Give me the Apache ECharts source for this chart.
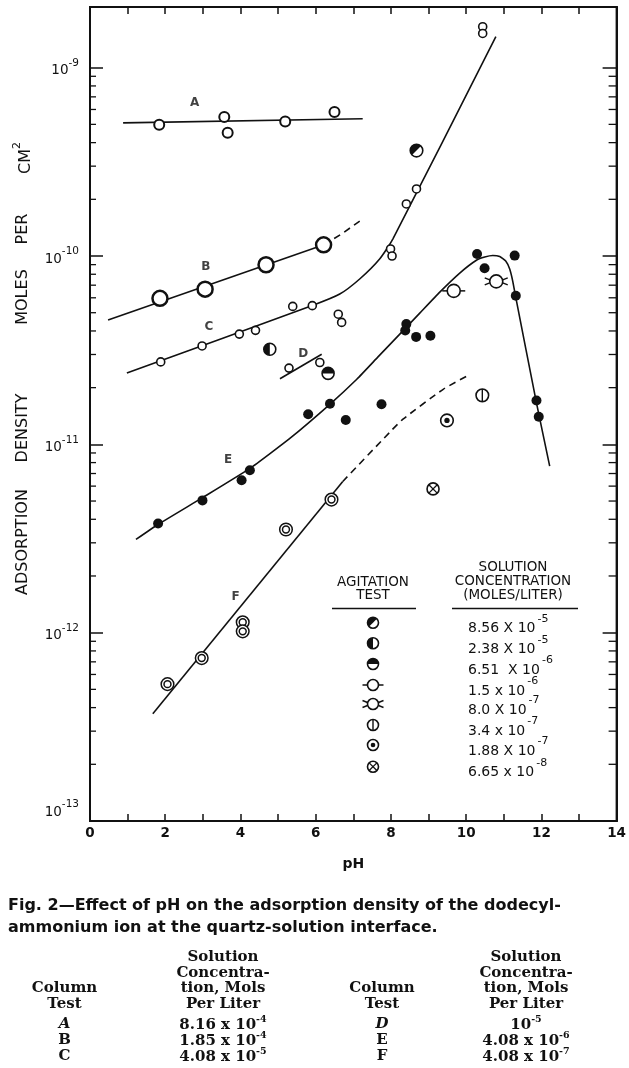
<!DOCTYPE html>
<html><head><meta charset="utf-8">
<script src="https://cdn.jsdelivr.net/npm/echarts@6/dist/echarts.min.js"></script>
<style>html,body{margin:0;padding:0;background:#fff}#c{width:629px;height:1068px}</style>
</head><body><div id="c"></div>
<script>
// ---------------- data (pH, moles per cm^2) ----------------
const xTickValues = [0, 2, 4, 6, 8, 10, 12, 14];
const seriesA = [[1.84,4.98e-10],[3.57,5.47e-10],[3.66,4.51e-10],[5.19,5.18e-10],[6.50,5.81e-10]];
const lineA = [[0.88,5.09e-10],[7.25,5.36e-10]];
const seriesB = [[1.86,5.96e-11],[3.06,6.67e-11],[4.68,8.99e-11],[6.21,1.146e-10]];
const lineB = [[0.48,4.58e-11],[6.22,1.146e-10]];
const lineBDashed = [[6.22,1.146e-10],[6.69,1.31e-10],[7.25,1.574e-10]];
const seriesC = [[1.88,2.74e-11],[2.98,3.33e-11],[3.97,3.85e-11],[4.40,4.03e-11],[5.39,5.40e-11],[5.91,5.45e-11],[6.60,4.91e-11],[6.69,4.44e-11],[7.99,1.09e-10],[8.03,1.00e-10],[8.41,1.89e-10],[8.68,2.27e-10],[10.44,1.65e-9],[10.44,1.52e-9]];
const lineC = [[0.98,2.39e-11],[5.93,5.48e-11],[6.64,6.28e-11],[7.17,7.55e-11],[7.70,9.64e-11],[8.05,1.23e-10],[10.79,1.46e-9]];
const seriesD = [[5.29,2.54e-11],[6.11,2.72e-11]];
const lineD = [[5.05,2.23e-11],[6.16,3.01e-11]];
const seriesE = [[1.81,3.80e-12],[2.99,5.04e-12],[4.03,6.44e-12],[4.25,7.28e-12],[5.80,1.445e-11],[6.38,1.644e-11],[6.80,1.346e-11],[7.75,1.633e-11],[8.41,4.35e-11],[8.38,4.02e-11],[8.67,3.72e-11],[9.05,3.77e-11],[10.29,1.026e-10],[11.29,1.005e-10],[10.49,8.61e-11],[11.32,6.15e-11],[11.87,1.71e-11],[11.93,1.40e-11]];
const lineE = [[1.222,3.126e-12],[1.807,3.754e-12],[3.002,5.226e-12],[4.251,7.453e-12],[5.313,1.076e-11],[6.376,1.632e-11],[7.093,2.217e-11],[7.651,2.903e-11],[8.236,3.847e-11],[8.767,4.975e-11],[9.299,6.433e-11],[9.830,8.121e-11],[10.282,9.522e-11],[10.494,9.879e-11],[10.707,1.0062e-10],[10.893,9.938e-11],[11.052,9.406e-11],[11.158,8.53e-11],[11.238,7.362e-11],[11.318,6.05e-11],[11.868,1.666e-11],[12.221,7.665e-12]];
const seriesF = [[2.06,5.33e-13],[2.97,7.33e-13],[4.06,1.135e-12],[4.06,1.016e-12],[5.21,3.53e-12],[6.42,5.09e-12]];
const lineF = [[1.67,3.71e-13],[6.72,6.35e-12]];
const lineFDashed = [[6.72,6.35e-12],[7.97,1.16e-11],[8.32,1.36e-11],[9.39,1.96e-11],[10.08,2.34e-11]];
// agitation tests
const agit856e5 = [[8.68,3.63e-10]];
const agit238e5 = [[4.78,3.2e-11]];
const agit651e6 = [[6.33,2.38e-11]];
const agit15e6 = [[9.67,6.53e-11]];
const agit80e7 = [[10.80,7.33e-11]];
const agit34e7 = [[10.43,1.82e-11]];
const agit188e7 = [[9.49,1.34e-11]];
const agit665e8 = [[9.12,5.8e-12]];
// curve letters
const curveLabelNames = ['A','B','C','D','E','F'];
const curveLabelAt = [[2.78,6.52e-10],[3.08,8.73e-11],[3.16,4.18e-11],[5.67,3.01e-11],[3.67,8.32e-12],[3.87,1.55e-12]];
// legend
const legendKinds = ['diag','left','top','bar','dbar','vline','dot','cross'];
const legendMantissa = ['8.56 X 10','2.38 X 10','6.51  X 10','1.5 x 10','8.0 X 10','3.4 x 10','1.88 X 10','6.65 x 10'];
const legendExponent = ['-5','-5','-6','-6','-7','-7','-7','-8'];
// caption / table
const captionLines = ['Fig. 2\u2014Effect of pH on the adsorption density of the dodecyl-','ammonium ion at the quartz-solution interface.'];
const tableHeaderCol = ['Column','Test'];
const tableHeaderConc = ['Solution','Concentra-','tion, Mols','Per Liter'];
const tableTestsLeft = ['A','B','C'];
const tableConcLeft = [['8.16 x 10','-4'],['1.85 x 10','-4'],['4.08 x 10','-5']];
const tableTestsRight = ['D','E','F'];
const tableConcRight = [['10','-5'],['4.08 x 10','-6'],['4.08 x 10','-7']];
const yTitleWords = ['ADSORPTION','DENSITY','MOLES','PER','CM'];

// minor log ticks (2..9 in each decade)
const minorMultipliers = [2,3,4,5,6,7,8,9];
const decadeStarts = [1e-13,1e-12,1e-11,1e-10];
const minorTickValues = [];
decadeStarts.forEach(d => minorMultipliers.forEach(m => minorTickValues.push(m * d)));

// ---------------- styling / helpers ----------------
const K = '#111';
const SANS = '"DejaVu Sans", sans-serif';
const SERIF = '"DejaVu Serif", serif';

function symbolShapes(kind, cx, cy, R) {
  const disk = (r, fill) => ({type:'circle', shape:{cx, cy, r}, style:{fill, stroke:null}});
  const ring = (r, lw) => ({type:'circle', shape:{cx, cy, r}, style:{fill:null, stroke:K, lineWidth:lw}});
  const sec = (a0, a1) => ({type:'sector', shape:{cx, cy, r0:0, r:R, startAngle:a0, endAngle:a1, clockwise:true}, style:{fill:K}});
  const seg = (x1,y1,x2,y2,lw) => ({type:'line', shape:{x1,y1,x2,y2}, style:{stroke:K, lineWidth:lw || 1.5}});
  const P = Math.PI;
  switch (kind) {
    case 'diag': return [disk(R,'#fff'), sec(3*P/4, 7*P/4), ring(R,1.6)];
    case 'left': return [disk(R,'#fff'), sec(P/2, 3*P/2), ring(R,1.6)];
    case 'top': return [disk(R,'#fff'), sec(P, 2*P), ring(R,1.6)];
    case 'bar': return [seg(cx-R-5,cy,cx-R,cy), seg(cx+R,cy,cx+R+5,cy), disk(R,'#fff'), ring(R,1.6)];
    case 'dbar': return [seg(cx-R,cy-1.5,cx-R-5,cy-3.5), seg(cx-R,cy+1.5,cx-R-5,cy+3.5),
                         seg(cx+R,cy-1.5,cx+R+5,cy-3.5), seg(cx+R,cy+1.5,cx+R+5,cy+3.5), disk(R,'#fff'), ring(R,1.6)];
    case 'vline': return [disk(R,'#fff'), seg(cx,cy-R,cx,cy+R,1.4), ring(R,1.6)];
    case 'dot': return [disk(R,'#fff'), ring(R,1.6), disk(R*0.42,K)];
    case 'cross': { const d = R*0.7; return [disk(R,'#fff'), seg(cx-d,cy-d,cx+d,cy+d,1.3), seg(cx-d,cy+d,cx+d,cy-d,1.3), ring(R,1.6)]; }
    case 'double': return [disk(R,'#fff'), ring(R,1.5), ring(R*0.55,1.5)];
  }
  return [];
}
function symbolSeries(kind, data, R) {
  return {type:'custom', coordinateSystem:'cartesian2d', xAxisIndex:0, yAxisIndex:0, data, z:5, silent:true,
    encode:{x:0, y:1},
    renderItem: (params, api) => {
      const p = api.coord([api.value(0), api.value(1)]);
      return {type:'group', children: symbolShapes(kind, p[0], p[1], R)};
    }};
}
function lineSeries(data, dashed, smooth) {
  return {type:'line', data, symbol:'none', smooth: smooth || false, z:2, silent:true,
    lineStyle:{color:K, width:1.6, type: dashed ? [7,5] : 'solid'}};
}
function openScatter(data, size, bw) {
  return {type:'scatter', data, symbol:'circle', symbolSize:size, z:4, silent:true,
    itemStyle:{color:'#fff', borderColor:K, borderWidth:bw, opacity:1}};
}

function yLabel(value) {
  const lg = Math.log10(value);
  const e = Math.round(lg);
  if (Math.abs(lg - e) > 0.01) return '';
  if (e === -13) return '{b|10}{s|' + e + '}\n{g| }';
  return '{b|10}{s|' + e + '}';
}

// ---------------- graphic (legend, titles, caption, table) ----------------
const graphic = [];
function txt(text, x, y, font, align, extra) {
  const el = {type:'text', x, y, silent:true, style:Object.assign({text, font, fill:K, align: align || 'center', verticalAlign:'middle', textAlign: align || 'center', textVerticalAlign:'middle'}, extra || {})};
  graphic.push(el);
  return el;
}
// y axis title words
const yTitleCenters = [542, 428, 297, 229, 158];
yTitleWords.forEach((w, i) => {
  const isCm = w === 'CM';
  graphic.push({type:'text', x:23, y:yTitleCenters[i], rotation:Math.PI/2, silent:true,
    style:{text: isCm ? '{m|CM}{s|2}' : w, font:'16px ' + SANS, fill:K, align:'center', verticalAlign:'middle', textAlign:'center', textVerticalAlign:'middle',
      rich:{m:{font:'16px ' + SANS, fill:K, lineHeight:22, verticalAlign:'bottom'}, s:{font:'11px ' + SANS, fill:K, lineHeight:10, verticalAlign:'top'}}}});
});
// legend headers
const hFont = '13.5px ' + SANS;
txt('AGITATION', 373, 582, hFont);
txt('TEST', 373, 595, hFont);
txt('SOLUTION', 513, 567, hFont);
txt('CONCENTRATION', 513, 581.5, hFont);
txt('(MOLES/LITER)', 513, 595, hFont);
graphic.push({type:'line', silent:true, shape:{x1:332, y1:608.5, x2:416, y2:608.5}, style:{stroke:K, lineWidth:1.6}});
graphic.push({type:'line', silent:true, shape:{x1:452, y1:608.5, x2:578, y2:608.5}, style:{stroke:K, lineWidth:1.6}});
const legendRowY = [622.7, 643.3, 664, 685, 704, 725, 745, 766.7];
legendKinds.forEach((k, i) => {
  graphic.push({type:'group', silent:true, children: symbolShapes(k, 373, legendRowY[i], 5.5)});
  graphic.push({type:'text', x:468, y:legendRowY[i] + 2, silent:true,
    style:{text:'{m|' + legendMantissa[i] + '}{s|' + legendExponent[i] + '}', fill:K, align:'left', verticalAlign:'middle', textAlign:'left', textVerticalAlign:'middle',
      rich:{m:{font:'14px ' + SANS, fill:K, lineHeight:22, verticalAlign:'bottom'}, s:{font:'11px ' + SANS, fill:K, lineHeight:10, verticalAlign:'top', padding:[0,0,0,2]}}}});
});
// caption
txt(captionLines[0], 8, 906, 'bold 16px ' + SANS, 'left');
txt(captionLines[1], 8, 928, 'bold 16px ' + SANS, 'left');
// table
const tFont = 'bold 15px ' + SERIF;
const tRich = {m:{font:tFont, fill:K, lineHeight:18, verticalAlign:'bottom'}, s:{font:'bold 9.5px ' + SERIF, fill:K, lineHeight:8, verticalAlign:'top'}};
[64.5, 382].forEach(x => { txt(tableHeaderCol[0], x, 988, tFont); txt(tableHeaderCol[1], x, 1004, tFont); });
[223, 526].forEach(x => { tableHeaderConc.forEach((s, j) => txt(s, x, [957, 973, 988, 1004][j], tFont)); });
const rowY = [1024, 1040, 1056];
tableTestsLeft.forEach((t, i) => txt(t, 64.5, rowY[i], (i === 0 ? 'italic ' : '') + tFont));
tableTestsRight.forEach((t, i) => txt(t, 382, rowY[i], (i === 0 ? 'italic ' : '') + tFont));
tableConcLeft.forEach((c, i) => txt('{m|' + c[0] + '}{s|' + c[1] + '}', 223, rowY[i], tFont, 'center', {rich:tRich}));
tableConcRight.forEach((c, i) => txt('{m|' + c[0] + '}{s|' + c[1] + '}', 526, rowY[i], tFont, 'center', {rich:tRich}));

// ---------------- chart ----------------
const axisCommon = {min:0, max:14, interval:1, splitLine:{show:false}};
const option = {
  animation:false,
  backgroundColor:'#fff',
  grid:{left:90, right:12, top:7, bottom:247, containLabel:false, show:true, borderColor:K, borderWidth:2, backgroundColor:'transparent'},
  xAxis:[
    Object.assign({type:'value', show:true, position:'bottom', gridIndex:0,
      axisLine:{show:true, onZero:false, lineStyle:{color:K, width:2}},
      axisTick:{show:true, inside:true, length:7, lineStyle:{color:K, width:1.5}},
      axisLabel:{color:K, fontFamily:SANS, fontSize:13.5, fontWeight:'bold', margin:5,
        formatter: v => (xTickValues.indexOf(v) >= 0 ? String(v) : '')},
      name:'pH', nameLocation:'middle', nameGap:36,
      nameTextStyle:{color:K, fontFamily:SANS, fontSize:14, fontWeight:'bold'}}, axisCommon),
    Object.assign({type:'value', show:true, position:'top', gridIndex:0,
      axisLine:{show:true, onZero:false, lineStyle:{color:K, width:2}},
      axisTick:{show:true, inside:true, length:7, lineStyle:{color:K, width:1.5}},
      axisLabel:{show:false}}, axisCommon)
  ],
  yAxis:[
    {type:'log', show:true, logBase:10, min:1e-13, max:2.1e-9, position:'left', gridIndex:0,
      axisLine:{show:true, onZero:false, lineStyle:{color:K, width:2}},
      axisTick:{show:true, inside:true, length:13, lineStyle:{color:K, width:1.5}},
      splitLine:{show:false},
      axisLabel:{margin:11, formatter:yLabel, color:K,
        rich:{b:{fontFamily:SANS, fontSize:13.5, color:K, lineHeight:20, verticalAlign:'bottom'},
              s:{fontFamily:SANS, fontSize:10.5, color:K, lineHeight:8, verticalAlign:'top'},
              g:{fontSize:2, lineHeight:24}}}},
    {type:'log', show:true, logBase:10, min:1e-13, max:2.1e-9, position:'right', gridIndex:0,
      axisLine:{show:true, onZero:false, lineStyle:{color:K, width:2}},
      axisTick:{show:true, inside:true, length:14, lineStyle:{color:K, width:1.5}},
      splitLine:{show:false}, axisLabel:{show:false}}
  ],
  graphic: graphic,
  series:[
    {type:'custom', coordinateSystem:'cartesian2d', xAxisIndex:1, yAxisIndex:1, silent:true, z:1,
      data: minorTickValues.map(v => [0, v]), encode:{x:0, y:1},
      renderItem:(params, api) => {
        const l = api.coord([0, api.value(1)]);
        const r = api.coord([14, api.value(1)]);
        return {type:'group', children:[
          {type:'line', shape:{x1:l[0], y1:l[1], x2:l[0] + 6, y2:l[1]}, style:{stroke:K, lineWidth:1.3}},
          {type:'line', shape:{x1:r[0] - 8, y1:r[1], x2:r[0], y2:r[1]}, style:{stroke:K, lineWidth:1.3}}]};
      }},
    lineSeries(lineA), lineSeries(lineB), lineSeries(lineBDashed, true),
    lineSeries(lineC, false, 0.2), lineSeries(lineD), lineSeries(lineE, false, 0.15),
    lineSeries(lineF), lineSeries(lineFDashed, true, 0.2),
    openScatter(seriesA, 10, 2),
    openScatter(seriesB, 15, 2.5),
    openScatter(seriesC, 8, 1.6),
    openScatter(seriesD, 8, 1.6),
    {type:'scatter', data:seriesE, symbol:'circle', symbolSize:10, z:4, silent:true, itemStyle:{color:K, opacity:1}},
    symbolSeries('double', seriesF, 6.3),
    symbolSeries('diag', agit856e5, 6.3),
    symbolSeries('left', agit238e5, 6),
    symbolSeries('top', agit651e6, 6),
    symbolSeries('bar', agit15e6, 6.5),
    symbolSeries('dbar', agit80e7, 6.5),
    symbolSeries('vline', agit34e7, 6.3),
    symbolSeries('dot', agit188e7, 6.3),
    symbolSeries('cross', agit665e8, 6),
    {type:'scatter', symbolSize:0, z:6, silent:true,
      data: curveLabelNames.map((n, i) => ({name:n, value:curveLabelAt[i]})),
      label:{show:true, position:'inside', formatter:'{b}', color:K, fontFamily:SANS, fontSize:12, fontWeight:'bold'}}
  ]
};
const chart = echarts.init(document.getElementById('c'), null, {renderer:'canvas', width:629, height:1068});
chart.setOption(option);
</script>
</body></html>
